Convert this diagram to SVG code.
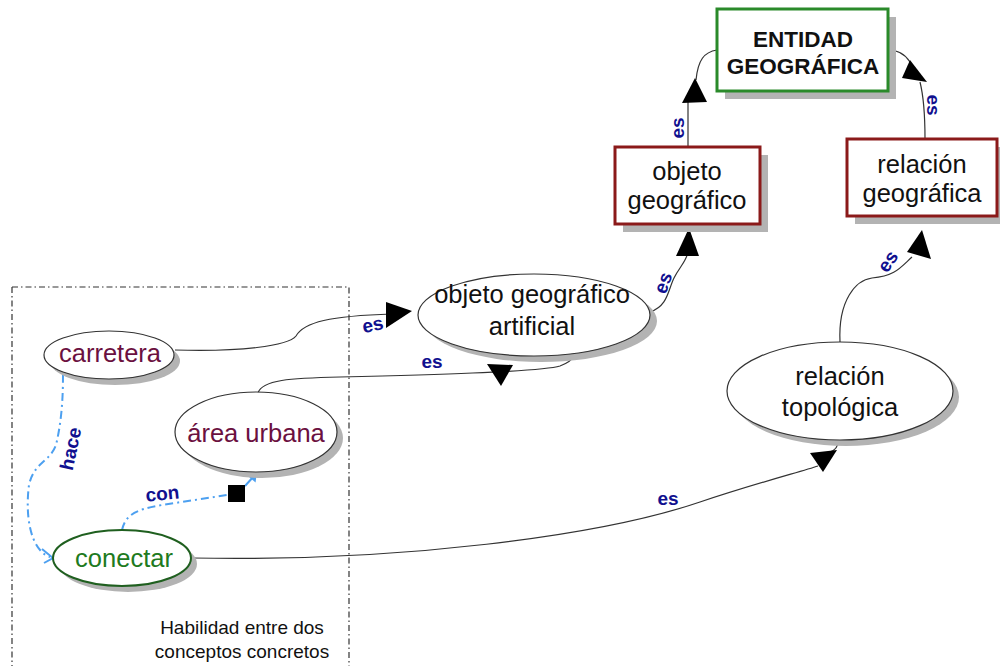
<svg xmlns="http://www.w3.org/2000/svg" width="1000" height="666" viewBox="0 0 1000 666">
<style>
.sh{fill:#b3b3b3}
.box{fill:#fff;stroke-width:3}
.ell{fill:#fff;stroke:#333;stroke-width:1.2}
.t{font-family:"Liberation Sans",Arial,sans-serif;font-size:25.5px;text-anchor:middle;fill:#111}
.lbl{font-family:"Liberation Sans",Arial,sans-serif;font-size:19px;font-weight:bold;fill:#10108f;text-anchor:middle}
.ln{fill:none;stroke:#333;stroke-width:1.2}
.dl{fill:none;stroke:#4da0f0;stroke-width:2;stroke-dasharray:8 4 2 4}
.ah{fill:#000}
</style>
<rect width="1000" height="666" fill="#fff"/>
<g id="frame">
<path d="M12,287 H349 V666 M12,287 V666" fill="none" stroke="#333" stroke-width="1.2" stroke-dasharray="6 3 1.5 3"/>
<text class="t" x="242" y="634" style="font-size:19px">Habilidad entre dos</text>
<text class="t" x="242" y="658" style="font-size:19px">conceptos concretos</text>
</g>
<g id="connectors">
<path class="ln" d="M175,350 C240,352 288,346 296,336 C304,322 330,316 392,314"/>
<path class="ah" d="M386,302 L412,311 L386,328 Z"/>
<text class="lbl" transform="translate(374,331) rotate(-12)">es</text>
<path class="ln" d="M258,393 C262,380 290,378 340,377 C420,375 540,372 560,366 C568,363 572,360 574,356"/>
<path class="ah" d="M487,364 L513,365 L501,386 Z"/>
<text class="lbl" x="432" y="368">es</text>
<path class="ln" d="M650,312 C668,306 668,290 674,278 C680,266 686,262 688,252"/>
<path class="ah" d="M676,256 L699,256 L689,228 Z"/>
<text class="lbl" transform="translate(669,285) rotate(-70)">es</text>
<path class="ln" d="M688,147 L688,102 M696,80 C698,60 704,52 717,50"/>
<path class="ah" d="M682,103 L707,102 L695,78 Z"/>
<text class="lbl" transform="translate(684,128) rotate(-90)">es</text>
<path class="ln" d="M925,139 C925,115 924,98 920,82 M910,62 C905,54 898,50 888,50"/>
<path class="ah" d="M902,78 L927,82 L910,60 Z"/>
<text class="lbl" transform="translate(927,105) rotate(90)">es</text>
<path class="ln" d="M840,342 C838,300 856,280 872,278 C895,276 900,268 912,257"/>
<path class="ah" d="M907,252 L931,259 L922,230 Z"/>
<text class="lbl" transform="translate(893,265) rotate(-55)">es</text>
<path class="ln" d="M192,558 C400,562 600,536 700,502 C760,482 800,472 818,466 M830,452 C836,450 838,446 838,441"/>
<path class="ah" d="M810,453 L837,450 L823,472 Z"/>
<text class="lbl" x="668" y="505">es</text>
<path class="dl" d="M63,375 C63,395 62,420 56,445 C50,462 34,462 29,485 C25,515 30,550 50,557"/>
<path d="M42,549 L53,558 L44,563" fill="none" stroke="#4da0f0" stroke-width="2"/>
<text class="lbl" transform="translate(77,450) rotate(-78)">hace</text>
<path class="dl" d="M122,530 C126,512 140,508 175,503 L227,495"/>
<path class="dl" d="M245,486 L254,476" style="stroke-dasharray:none"/>
<path d="M249,476 L256,473 L255,481 Z" fill="#4da0f0" stroke="#4da0f0" stroke-width="1.5"/>
<rect x="228" y="485" width="17" height="17" fill="#000"/>
<text class="lbl" transform="translate(163,500) rotate(-6)">con</text>
</g>
<g id="entidad">
<rect class="sh" x="725" y="17" width="171" height="82"/>
<rect class="box" x="717" y="9" width="171" height="82" stroke="#2a8a2a"/>
<text class="t" x="803" y="47" style="font-weight:bold;font-size:22.5px">ENTIDAD</text>
<text class="t" x="803" y="74" style="font-weight:bold;font-size:22.5px">GEOGRÁFICA</text>
</g>
<g id="objeto">
<rect class="sh" x="623" y="155" width="145" height="77"/>
<rect class="box" x="615" y="147" width="145" height="77" stroke="#8b1a1a"/>
<text class="t" x="687" y="180">objeto</text>
<text class="t" x="687" y="209">geográfico</text>
</g>
<g id="relgeo">
<rect class="sh" x="855" y="147" width="145" height="77"/>
<rect class="box" x="847" y="139" width="150" height="77" stroke="#8b1a1a"/>
<text class="t" x="922" y="173">relación</text>
<text class="t" x="922" y="202">geográfica</text>
</g>
<g id="artificial">
<ellipse class="sh" cx="541" cy="321" rx="116" ry="41"/>
<ellipse class="ell" cx="534" cy="315" rx="116" ry="41"/>
<text class="t" x="532" y="303">objeto geográfico</text>
<text class="t" x="532" y="335">artificial</text>
</g>
<g id="carretera">
<ellipse class="sh" cx="115" cy="361" rx="65" ry="24"/>
<ellipse class="ell" cx="109" cy="355" rx="65" ry="24"/>
<text class="t" x="110" y="362" style="fill:#6b1040">carretera</text>
</g>
<g id="urbana">
<ellipse class="sh" cx="262" cy="438" rx="81" ry="40"/>
<ellipse class="ell" cx="256" cy="432" rx="81" ry="40"/>
<text class="t" x="256" y="442" style="fill:#6b1040">área urbana</text>
</g>
<g id="conectar">
<ellipse class="sh" cx="128" cy="564" rx="69" ry="28"/>
<ellipse class="ell" cx="122" cy="558" rx="69" ry="28" style="stroke:#1f5f1f;stroke-width:2"/>
<text class="t" x="124" y="567" style="fill:#207a20">conectar</text>
</g>
<g id="topologica">
<ellipse class="sh" cx="846" cy="397" rx="113" ry="49"/>
<ellipse class="ell" cx="840" cy="391" rx="113" ry="49"/>
<text class="t" x="840" y="385">relación</text>
<text class="t" x="840" y="416">topológica</text>
</g>
</svg>
